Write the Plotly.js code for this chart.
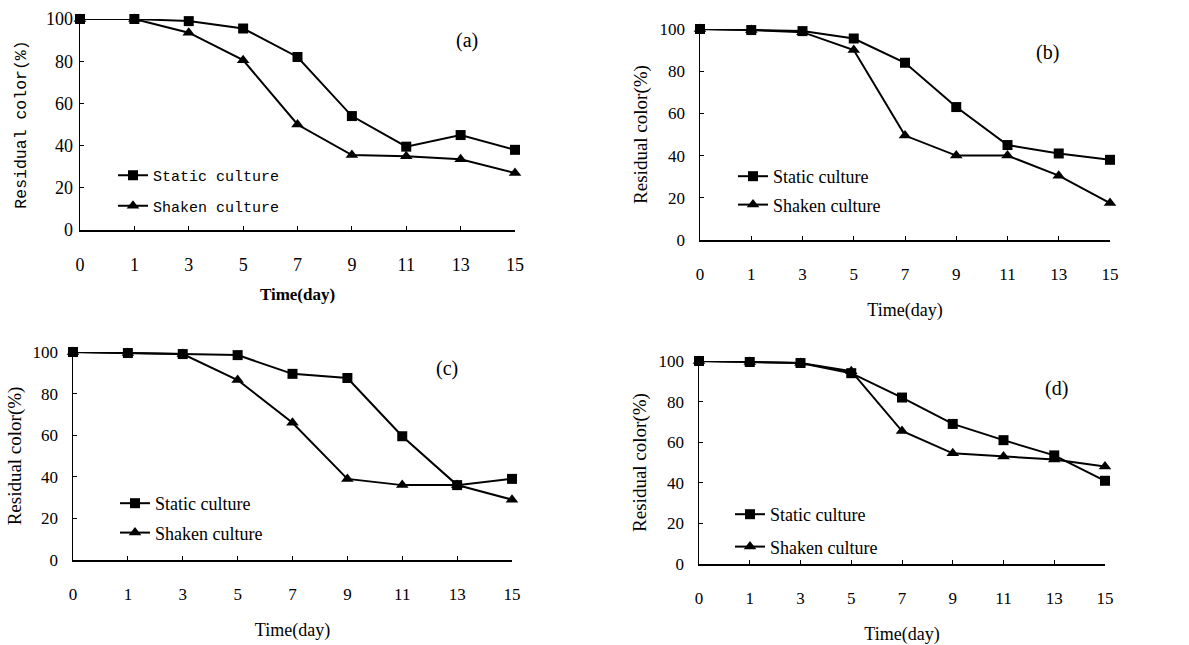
<!DOCTYPE html>
<html>
<head>
<meta charset="utf-8">
<script src="https://cdn.plot.ly/plotly-3.0.1.min.js"></script>
<style>html,body{margin:0;padding:0;background:#fff;}#chart{width:1189px;height:645px;}</style>
</head>
<body>
<div id="chart"></div>
<script>
// ---- data ----
const days = ['0','1','3','5','7','9','11','13','15'];
const yTicks = [0,20,40,60,80,100];

const aStatic = [100,100,99,95.5,82,54,39.5,45,38];
const aShaken = [100,100,93.5,80.5,50,35.5,35,33.5,27];

const bStatic = [100,99.5,99,95.5,84,63,45,41,38];
const bShaken = [100,99.5,98.5,90,49.5,40,40,30.5,17.5];

const cStatic = [100,99.5,99,98.5,89.5,87.5,59.5,36,39];
const cShaken = [100,99.5,99,86.5,66,39,36,36,29];

const dStatic = [100,99.5,99,94,82,69,61,53.5,41];
const dShaken = [100,99.5,99,95,65.5,54.5,53,51.5,48];

const seriesNames = ['Static culture','Shaken culture'];
const panelLabels = ['(a)','(b)','(c)','(d)'];
const xTitle = 'Time(day)';
const yTitle = 'Residual color(%)';

// ---- layout helpers ----
const W = 1189, H = 645;
const px = v => v / W;
const py = v => 1 - v / H;

const panels = [
  {st: aStatic, sh: aShaken, x0: 80, x1: 515, yTop: 19, yBot: 230, leg: [113, 159], lab: [467, 40], mono: true, ys: 15, xs: 14, gap: 8, tf: 18},
  {st: bStatic, sh: bShaken, x0: 700, x1: 1110, yTop: 29, yBot: 240, leg: [733, 158], lab: [1047, 52], mono: false, ys: 7, xs: 20, gap: 2, tf: 17},
  {st: cStatic, sh: cShaken, x0: 73, x1: 512, yTop: 352, yBot: 560, leg: [115, 485], lab: [447, 368], mono: false, ys: 6, xs: 20, gap: 3, tf: 17},
  {st: dStatic, sh: dShaken, x0: 699, x1: 1105, yTop: 361, yBot: 564, leg: [730, 496], lab: [1056, 388], mono: false, ys: 7, xs: 21, gap: 6, tf: 17}
];

const serif = 'Liberation Serif, Times New Roman, serif';
const mono = 'Liberation Mono, Courier New, monospace';

const traces = [];
const layout = {
  width: W, height: H,
  margin: {l: 0, r: 0, t: 0, b: 0},
  paper_bgcolor: '#fff', plot_bgcolor: '#fff',
  showlegend: true,
  font: {family: serif, color: '#000', size: 16},
  annotations: []
};

panels.forEach((p, i) => {
  const n = i === 0 ? '' : String(i + 1);
  const xa = 'x' + n, ya = 'y' + n;
  const legName = 'legend' + n;
  const txtFont = p.mono ? mono : serif;
  [p.st, p.sh].forEach((vals, k) => {
    traces.push({
      type: 'scatter', mode: 'lines+markers',
      x: days, y: vals, name: seriesNames[k],
      xaxis: xa, yaxis: ya, legend: legName,
      legendgroup: 'g' + i + k,
      cliponaxis: false,
      line: {color: '#000', width: 2},
      marker: {symbol: k === 0 ? 'square' : 'triangle-up', size: k === 0 ? 10 : 11, color: '#000'}
    });
  });
  layout['xaxis' + n] = {
    domain: [px(p.x0), px(p.x1)], anchor: ya,
    type: 'category', range: [0, days.length - 1],
    showline: true, linecolor: '#000', linewidth: 1.5,
    showgrid: false, zeroline: false,
    ticks: 'inside', ticklen: 4, tickcolor: '#000',
    ticklabelstandoff: 18,
    tickfont: {family: serif, size: p.tf, color: '#000'},
    title: {text: xTitle, standoff: p.xs, font: {family: serif, size: p.mono ? 17 : 18, color: '#000', weight: p.mono ? 'bold' : 'normal'}},
    automargin: false, fixedrange: true
  };
  layout['yaxis' + n] = {
    domain: [py(p.yBot), py(p.yTop)], anchor: xa,
    range: [0, 100], tickvals: yTicks,
    showline: true, linecolor: '#000', linewidth: 1.5,
    showgrid: false, zeroline: false,
    ticks: 'inside', ticklen: 4, tickcolor: '#000',
    ticklabelstandoff: p.mono ? 2 : 10,
    tickfont: {family: serif, size: p.tf, color: '#000'},
    title: {text: yTitle, standoff: p.ys, font: {family: txtFont, size: p.mono ? 16.5 : 19, color: '#000'}},
    automargin: false, fixedrange: true
  };
  layout[legName] = {
    x: px(p.leg[0]), y: py(p.leg[1]), xanchor: 'left', yanchor: 'top',
    bgcolor: 'rgba(0,0,0,0)', borderwidth: 0,
    font: {family: txtFont, size: p.mono ? 15 : 18, color: '#000'},
    traceorder: 'grouped', tracegroupgap: p.gap, itemwidth: 30
  };
  layout.annotations.push({
    text: panelLabels[i], xref: 'paper', yref: 'paper',
    x: px(p.lab[0]), y: py(p.lab[1]), xanchor: 'center', yanchor: 'middle',
    showarrow: false, font: {family: serif, size: 20, color: '#000'}
  });
});

Plotly.newPlot('chart', traces, layout, {displayModeBar: false, staticPlot: true});
</script>
</body>
</html>
